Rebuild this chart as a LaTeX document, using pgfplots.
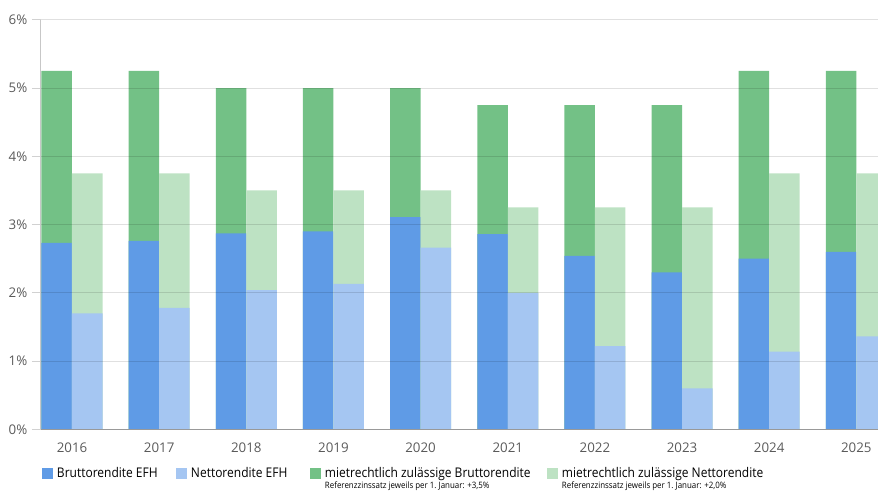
\documentclass[border=0pt]{standalone}
\usepackage{pgfplots}
\usepackage{pgfplotstable}
\pgfplotsset{compat=1.18}
\usepackage{fontspec}
\setmainfont{Open Sans}[FakeStretch=0.9]
\newfontfamily\tickfont{Open Sans}

\definecolor{brutto}{HTML}{5F9BE6}
\definecolor{netto}{HTML}{A5C6F2}
\definecolor{mietbrutto}{HTML}{73C186}
\definecolor{mietnetto}{HTML}{BDE2C3}
\definecolor{ticktext}{HTML}{5A5A5A}

% Renditen in Prozent, Jahre 2016--2025 als Positionen 0..9
\pgfplotstableread{
x brutto netto mietbrutto mietnetto
0 2.73 1.70 5.25 3.75
1 2.76 1.78 5.25 3.75
2 2.87 2.04 5.00 3.50
3 2.90 2.13 5.00 3.50
4 3.11 2.66 5.00 3.50
5 2.86 2.00 4.75 3.25
6 2.54 1.22 4.75 3.25
7 2.30 0.60 4.75 3.25
8 2.50 1.14 5.25 3.75
9 2.60 1.36 5.25 3.75
}\renditen

\newcommand{\subnote}[1]{\rlap{\raisebox{-8pt}[0pt][0pt]{\fontsize{6.6}{7.5}\selectfont #1}}}

\begin{document}
\begin{tikzpicture}
\begin{axis}[
  name=ax,
  scale only axis,
  width=627.75pt, height=307.2pt,
  xmin=-0.3557, xmax=9.2484,
  ymin=0, ymax=6,
  axis on top,
  axis x line*=bottom, axis y line*=left,
  x axis line style={draw=black!40, line width=0.75pt},
  y axis line style={draw=black!22, line width=0.75pt},
  xtick={0,1,2,3,4,5,6,7,8,9},
  xticklabels={2016,2017,2018,2019,2020,2021,2022,2023,2024,2025},
  ytick={0,1,2,3,4,5,6},
  yticklabels={0\%,1\%,2\%,3\%,4\%,5\%,6\%},
  xtick style={draw=none},
  ytick style={draw=black!18, line width=0.75pt},
  tick align=outside,
  major tick length=6.75pt,
  ymajorgrids,
  major grid style={draw=black, opacity=0.12, line width=0.75pt},
  tick label style={font=\tickfont\fontsize{10}{12}\selectfont, text=ticktext},
  legend image code/.code={\fill[#1, draw=none] (0pt,-4.125pt) rectangle (8.25pt,4.125pt);},
  legend style={
    at={(axis description cs:0,0)}, anchor=west,
    xshift=0.75pt, yshift=-33.4pt,
    draw=none, fill=none, inner sep=0pt, outer sep=0pt,
    font=\fontsize{10}{12}\selectfont,
    nodes={inner sep=0pt},
    /tikz/every odd column/.append style={column sep=3pt},
    /tikz/every even column/.append style={column sep=0pt},
  },
  legend columns=4,
  legend cell align=left,
]
% zulaessige Renditen als volle Saeulen, tatsaechliche Renditen davor
\addplot[ybar, bar width=0.35, bar shift=-0.175, fill=mietbrutto, draw=none, forget plot]
  table[x=x, y=mietbrutto]{\renditen};
\addplot[ybar, bar width=0.35, bar shift=-0.175, fill=brutto, draw=none, forget plot]
  table[x=x, y=brutto]{\renditen};
\addplot[ybar, bar width=0.35, bar shift=0.175, fill=mietnetto, draw=none, forget plot]
  table[x=x, y=mietnetto]{\renditen};
\addplot[ybar, bar width=0.35, bar shift=0.175, fill=netto, draw=none, forget plot]
  table[x=x, y=netto]{\renditen};

\addlegendimage{fill=brutto, draw=none}
\addlegendentry{\makebox[89.25pt][l]{Bruttorendite EFH}}
\addlegendimage{fill=netto, draw=none}
\addlegendentry{\makebox[89.25pt][l]{Nettorendite EFH}}
\addlegendimage{fill=mietbrutto, draw=none}
\addlegendentry{\makebox[166.5pt][l]{\subnote{Referenzzinssatz jeweils per 1.~Januar: +3,5\%}mietrechtlich zulässige Bruttorendite}}
\addlegendimage{fill=mietnetto, draw=none}
\addlegendentry{\subnote{Referenzzinssatz jeweils per 1.~Januar: +2,0\%}mietrechtlich zulässige Nettorendite}
\end{axis}
\pgfresetboundingbox
\path[use as bounding box] ([xshift=-30.75pt,yshift=-45.5pt]ax.south west) rectangle ++(658.5pt,367.5pt);
\end{tikzpicture}
\end{document}
